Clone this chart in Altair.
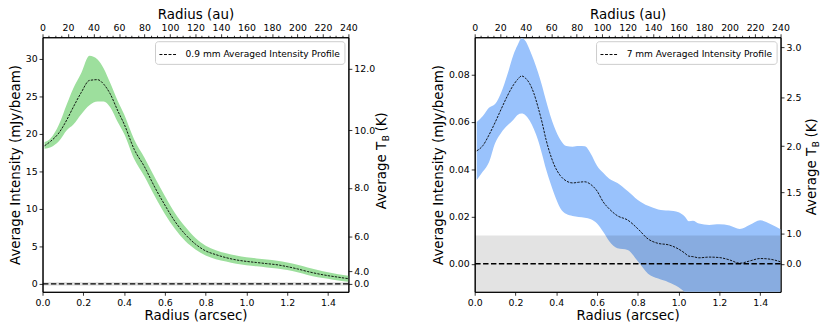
import json
import altair as alt
import pandas as pd

# ---------------- data: 0.9 mm averaged intensity profile (left panel) ----------------
r_09 = [0.01, 0.04, 0.08, 0.12, 0.15, 0.19, 0.23, 0.27, 0.30, 0.33, 0.37, 0.40, 0.45, 0.50,
        0.55, 0.60, 0.65, 0.70, 0.75, 0.80, 0.85, 0.90, 0.95, 1.00, 1.05, 1.10, 1.15, 1.20,
        1.25, 1.30, 1.35, 1.40, 1.45, 1.50]
mean_09 = [18.4, 19.0, 20.1, 21.9, 23.5, 25.5, 27.1, 27.2, 26.6, 25.4, 23.0, 21.3, 17.9, 15.6,
           12.9, 10.5, 8.3, 6.6, 5.3, 4.4, 3.9, 3.5, 3.2, 3.0, 2.85, 2.7, 2.55, 2.3,
           2.0, 1.65, 1.35, 1.1, 0.9, 0.7]
upper_09 = [18.9, 19.4, 21.2, 24.0, 26.0, 28.1, 30.4, 29.9, 28.7, 26.9, 24.3, 22.6, 19.2, 16.8,
            14.2, 11.7, 9.4, 7.6, 6.1, 5.1, 4.5, 4.1, 3.8, 3.55, 3.4, 3.25, 3.1, 2.85,
            2.55, 2.2, 1.85, 1.55, 1.3, 1.1]
lower_09 = [18.0, 18.2, 19.0, 20.5, 21.2, 22.6, 23.8, 24.3, 24.3, 23.6, 21.5, 20.0, 16.6, 14.3,
            11.7, 9.3, 7.3, 5.7, 4.6, 3.8, 3.3, 3.0, 2.7, 2.5, 2.35, 2.2, 2.05, 1.85,
            1.55, 1.2, 0.9, 0.7, 0.45, 0.3]
noise_09 = 0.25
label_09 = "0.9 mm Averaged Intensity Profile"

# ---------------- data: 7 mm averaged intensity profile (right panel) ----------------
r_7 = [0.01, 0.04, 0.07, 0.10, 0.13, 0.16, 0.19, 0.21, 0.23, 0.25, 0.27, 0.29, 0.31, 0.33,
       0.35, 0.37, 0.39, 0.42, 0.45, 0.48, 0.51, 0.54, 0.57, 0.60, 0.63, 0.66, 0.70, 0.75,
       0.80, 0.85, 0.90, 0.95, 1.00, 1.03, 1.05, 1.07, 1.10, 1.15, 1.20, 1.25, 1.30, 1.35,
       1.40, 1.45, 1.50]
mean_7 = [0.0478, 0.0500, 0.0545, 0.0598, 0.0655, 0.0710, 0.0757, 0.0780, 0.0795, 0.0785,
          0.0762, 0.0722, 0.0665, 0.0600, 0.0525, 0.0465, 0.0418, 0.0373, 0.0350, 0.0342,
          0.0345, 0.0347, 0.0335, 0.0308, 0.0262, 0.0232, 0.0203, 0.0185, 0.0148, 0.0105,
          0.0086, 0.0080, 0.0062, 0.0045, 0.0032, 0.0030, 0.0025, 0.0028, 0.0026, 0.0016,
          0.0002, 0.0012, 0.0022, 0.0019, 0.0008]
upper_7 = [0.0600, 0.0625, 0.0660, 0.0676, 0.0725, 0.0800, 0.0885, 0.0925, 0.0955, 0.0942,
           0.0905, 0.0862, 0.0812, 0.0755, 0.0690, 0.0630, 0.0580, 0.0525, 0.0498, 0.0495,
           0.0498, 0.0497, 0.0465, 0.0415, 0.0385, 0.0360, 0.0342, 0.0308, 0.0270, 0.0245,
           0.0230, 0.0225, 0.0218, 0.0200, 0.0180, 0.0182, 0.0170, 0.0164, 0.0167, 0.0162,
           0.0147, 0.0165, 0.0184, 0.0168, 0.0146]
lower_7 = [0.0355, 0.0390, 0.0430, 0.0510, 0.0555, 0.0585, 0.0610, 0.0630, 0.0636, 0.0628,
           0.0605, 0.0570, 0.0525, 0.0465, 0.0400, 0.0345, 0.0295, 0.0235, 0.0210, 0.0202,
           0.0198, 0.0195, 0.0188, 0.0170, 0.0135, 0.0095, 0.0065, 0.0058, 0.0010, -0.0042,
           -0.0063, -0.0078, -0.0100, -0.0120, -0.0135, -0.0140, -0.0150, -0.0130, -0.0117, -0.0135,
           -0.0155, -0.0150, -0.0145, -0.0155, -0.0160]
noise_7 = 0.0119
label_7 = "7 mm Averaged Intensity Profile"

# ---------------- axes / ticks ----------------
R_MAX = 1.5
AU_PER_ARCSEC = 160
arcsec_ticks = [0.0, 0.2, 0.4, 0.6, 0.8, 1.0, 1.2, 1.4]
au_major = [0, 20, 40, 60, 80, 100, 120, 140, 160, 180, 200, 220, 240]
au_minor_step = 5
int_ticks_09 = [0, 5, 10, 15, 20, 25, 30]
int_ticks_7 = [0.0, 0.02, 0.04, 0.06, 0.08]
ydom_09 = [-1.05, 32.85]
ydom_7 = [-0.0119, 0.0959]
tb_labels_09 = ["0.0", "4.0", "6.0", "8.0", "10.0", "12.0"]
tb_pos_09 = [0.0, 1.65, 6.25, 12.8, 20.47, 28.69]
tb_labels_7 = ["0.0", "1.0", "1.5", "2.0", "2.5", "3.0"]
tb_pos_7 = [0.0, 0.0128, 0.0302, 0.0498, 0.0704, 0.0916]

FONT = "DejaVu Sans"
W, H = 310, 258
TITLE_FS = 13.6

au_all = list(range(0, au_major[-1] + 1, au_minor_step))
au_vals = [a / AU_PER_ARCSEC for a in au_all]
au_test = f"round(datum.value*{AU_PER_ARCSEC}) % 20 == 0"


def panel(r, mean, upper, lower, noise, ydom, yticks, yfmt, tbpos, tblab, label, fill,
          title_y0, title_dx):
    df = pd.DataFrame({"r": r, "mean": mean, "upper": upper, "lower": lower, "series": label})
    xs = alt.Scale(domain=[0, R_MAX], nice=False, zero=False)
    ys = alt.Scale(domain=ydom, nice=False, zero=False)
    base = alt.Chart(df)

    band = base.mark_area(color=fill, opacity=1, clip=True, interpolate="monotone").encode(
        x=alt.X("r:Q", scale=xs,
                axis=alt.Axis(orient="bottom", values=arcsec_ticks, format=".1f",
                              title="Radius (arcsec)", titlePadding=2)),
        y=alt.Y("upper:Q", scale=ys,
                axis=alt.Axis(orient="left", values=yticks, format=yfmt,
                              title="Average Intensity (mJy/beam)", titlePadding=3)),
        y2="lower:Q",
    )

    tb_expr = f"{json.dumps(tblab)}[indexof({json.dumps(tbpos)}, datum.value)]"
    line = base.mark_line(strokeWidth=0.9, strokeDash=[2.4, 1.2], interpolate="monotone",
                          clip=True).encode(
        x=alt.X("r:Q", scale=xs,
                axis=alt.Axis(orient="top", values=au_vals, labelOverlap=False,
                              labelExpr=f"{au_test} ? format(round(datum.value*{AU_PER_ARCSEC}), 'd') : ''",
                              tickSize={"condition": {"test": au_test, "value": 3.5}, "value": 2},
                              title="Radius (au)", titlePadding=1.5, labelPadding=1)),
        y=alt.Y("mean:Q", scale=ys,
                axis=alt.Axis(orient="right", values=tbpos, labelExpr=tb_expr, title=None)),
        color=alt.Color("series:N", scale=alt.Scale(domain=[label], range=["black"]),
                        legend=alt.Legend(orient="top-right", offset=4, title=None,
                                          symbolType="stroke", symbolDash=[3, 1.6],
                                          symbolStrokeWidth=1, symbolSize=324,
                                          labelFontSize=9.2, labelFont=FONT, labelColor="black",
                                          fillColor="white", strokeColor="#cccccc",
                                          cornerRadius=3, padding=4, labelOffset=8)),
    )

    noise_df = pd.DataFrame({"x0": [0.0], "x1": [R_MAX], "lo": [-noise], "hi": [noise]})
    rect = alt.Chart(noise_df).mark_rect(color="black", opacity=0.11, clip=True).encode(
        x=alt.X("x0:Q", scale=xs, axis=None), x2="x1:Q",
        y=alt.Y("lo:Q", scale=ys, axis=None), y2="hi:Q",
    )

    zero = alt.Chart(pd.DataFrame({"zero": [0.0]})).mark_rule(
        color="black", strokeWidth=1.4, strokeDash=[5.5, 2.5]).encode(
        y=alt.Y("zero:Q", scale=ys, axis=None))

    one = pd.DataFrame({"k": [0]})
    t1 = alt.Chart(one).mark_text(text="Average T", angle=270, align="right",
                                  baseline="alphabetic", fontSize=TITLE_FS, font=FONT,
                                  color="black").encode(
        x=alt.value(W + title_dx), y=alt.value(title_y0))
    t2 = alt.Chart(one).mark_text(text="B", angle=270, align="left",
                                  baseline="alphabetic", fontSize=9, font=FONT,
                                  color="black").encode(
        x=alt.value(W + title_dx + 3), y=alt.value(title_y0 - 0.5))
    t3 = alt.Chart(one).mark_text(text="(K)", angle=270, align="left",
                                  baseline="alphabetic", fontSize=TITLE_FS, font=FONT,
                                  color="black").encode(
        x=alt.value(W + title_dx), y=alt.value(title_y0 - 10.5))

    return alt.layer(band, rect, line, zero, t1, t2, t3).resolve_axis(
        x="independent", y="independent").properties(width=W, height=H)


left = panel(r_09, mean_09, upper_09, lower_09, noise_09, ydom_09, int_ticks_09, "d",
             tb_pos_09, tb_labels_09, label_09, "#9ddf9d", 106, 38.6)
right = panel(r_7, mean_7, upper_7, lower_7, noise_7, ydom_7, int_ticks_7, ".2f",
              tb_pos_7, tb_labels_7, label_7, "#99c2fc", 112, 36)

chart = alt.hconcat(left, right, spacing=38).resolve_scale(color="independent").properties(
    padding={"left": -1, "top": -3.5, "right": 0, "bottom": 0}
).configure_view(stroke="black", strokeWidth=1).configure_axis(
    grid=False, domainColor="black", domainWidth=1, tickColor="black", tickWidth=0.8,
    tickSize=3.5, labelColor="black", titleColor="black", labelFont=FONT, titleFont=FONT,
    labelFontSize=9.5, titleFontSize=TITLE_FS, titleFontWeight="normal", labelPadding=2,
    labelFlush=False, labelOverlap=False,
)

chart.save("out.html", embed_options={"renderer": "svg", "actions": False})
